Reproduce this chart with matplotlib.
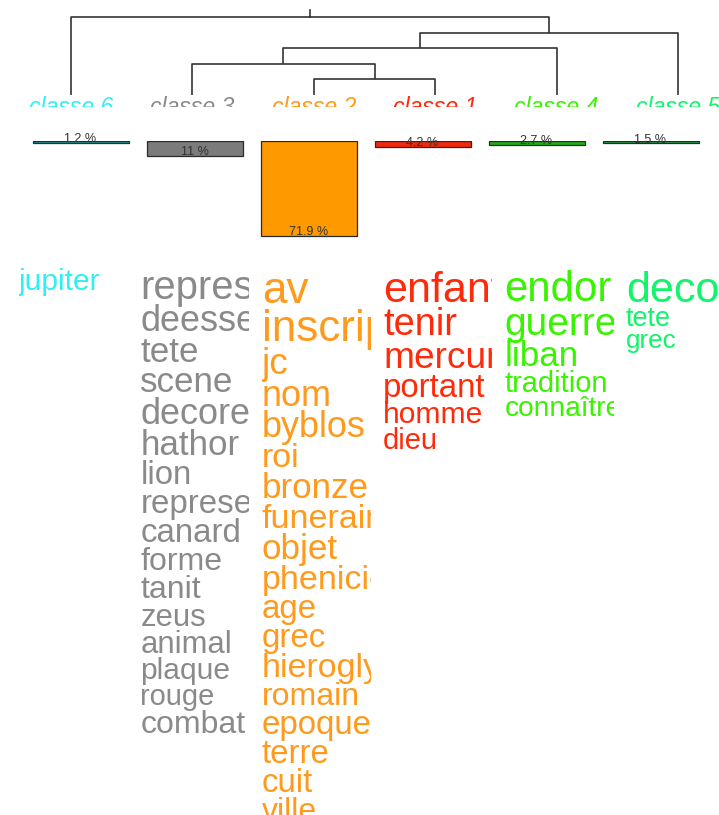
import matplotlib
matplotlib.use("Agg")
import matplotlib.pyplot as plt

# ---- data -------------------------------------------------------------
classes = ["classe 6", "classe 3", "classe 2", "classe 1", "classe 4", "classe 5"]
percents = [1.2, 11.0, 71.9, 4.2, 2.7, 1.5]
pct_labels = ["1.2 %", "11 %", "71.9 %", "4.2 %", "2.7 %", "1.5 %"]

# dendrogram merges, leaves are positions 0..5 in the order above
# (left node, right node, height) ; new nodes get ids 6, 7, ...
merges = [(2, 3, 1), (1, 6, 2), (7, 4, 3), (8, 5, 4), (0, 9, 5)]

words_c6 = ["jupiter"]
sizes_c6 = [30]
words_c3 = ["representer", "deesse", "tete", "scene", "decoree", "hathor", "lion",
            "represente", "canard", "forme", "tanit", "zeus", "animal", "plaque",
            "rouge", "combat"]
sizes_c3 = [40, 36, 35, 35, 36, 35, 33, 33, 33, 32, 32, 31, 31, 30, 29, 32]
words_c2 = ["av", "inscription", "jc", "nom", "byblos", "roi", "bronze", "funeraire",
            "objet", "phenicien", "age", "grec", "hieroglyphe", "romain", "epoque",
            "terre", "cuit", "ville"]
sizes_c2 = [44, 44, 37, 36, 36, 34, 35, 34, 35, 34, 33, 33, 34, 32, 33, 33, 33, 32]
words_c1 = ["enfant", "tenir", "mercure", "portant", "homme", "dieu"]
sizes_c1 = [43, 38, 37, 33, 30, 29]
words_c4 = ["endormi", "guerre", "liban", "tradition", "connaître"]
sizes_c4 = [42, 39, 35, 29, 28]
words_c5 = ["decoration", "tete", "grec"]
sizes_c5 = [43, 27, 26]

text_colors = ["#2ff0f4", "#8a8a8a", "#ff9a1c", "#ff2a0a", "#38f400", "#10f56a"]
bar_colors = ["#139c9c", "#7b7b7b", "#ff9900", "#f0280c", "#22aa18", "#1ea34a"]

# ---- layout (pixels of the 719x815 canvas) ----------------------------
W, H = 719, 815
fig = plt.figure(figsize=(W / 100, H / 100), dpi=100)

# dendrogram
leaf_x0, leaf_dx = 71, 121.4
unit = 15.6            # px per merge level
leaf_y = 95
dend_bottom = 107
ax_d = fig.add_axes([0, 1 - dend_bottom / H, 1, dend_bottom / H])
ax_d.set_xlim(-leaf_x0 / leaf_dx, (W - leaf_x0) / leaf_dx)
ax_d.set_ylim(-(dend_bottom - leaf_y) / unit, leaf_y / unit)
ax_d.axis("off")

xpos = {i: float(i) for i in range(len(classes))}
ypos = {i: 0.0 for i in range(len(classes))}
node = len(classes)
for a, b, h in merges:
    ax_d.plot([xpos[a], xpos[a], xpos[b], xpos[b]], [ypos[a], h, h, ypos[b]],
              color="#333333", lw=1.2, solid_capstyle="butt")
    xpos[node] = (xpos[a] + xpos[b]) / 2
    ypos[node] = h
    node += 1
root = node - 1
ax_d.plot([xpos[root], xpos[root]], [ypos[root], ypos[root] + 0.45],
          color="#333333", lw=1.2)

# class names, only their top part shows under the tree
for i, name in enumerate(classes):
    ax_d.text(i, -1.22, name, color=text_colors[i], fontsize=23 * 0.72,
              style="italic", family="Liberation Sans", ha="center",
              va="baseline", clip_on=True)

# bars
bar_x0, bar_dx = 80.5, 114
bar_top, px_per_pct = 141, 1.32
bar_h = 78 * px_per_pct
ax_b = fig.add_axes([0, 1 - (bar_top + bar_h) / H, 1, bar_h / H])
ax_b.set_xlim(-bar_x0 / bar_dx, (W - bar_x0) / bar_dx)
ax_b.set_ylim(78, 0)
ax_b.axis("off")
ax_b.bar(range(len(classes)), percents, width=96 / bar_dx, color=bar_colors,
         edgecolor="#2a2a2a", linewidth=0.9, align="center")
for i, (p, lab) in enumerate(zip(percents, pct_labels)):
    ax_b.annotate(lab, (i, p), xytext=(0, 2.5), textcoords="offset points",
                  fontsize=9, color="#333333", ha="center", va="center",
                  family="Liberation Sans")

# word columns
col_w = 109
word_top, word_start = 250, 264
step = 0.88
columns = [(words_c6, sizes_c6), (words_c3, sizes_c3), (words_c2, sizes_c2),
           (words_c1, sizes_c1), (words_c4, sizes_c4), (words_c5, sizes_c5)]
for i, (words, sizes) in enumerate(columns):
    left = leaf_x0 + leaf_dx * i - 52
    ax_w = fig.add_axes([left / W, 0, col_w / W, (H - word_top) / H])
    ax_w.set_xlim(0, col_w)
    ax_w.set_ylim(H, word_top)
    ax_w.axis("off")
    y = word_start
    for w, s in zip(words, sizes):
        y += s * step
        ax_w.text(0, y, w, fontsize=s * 0.72, color=text_colors[i],
                  family="Liberation Sans", ha="left", va="baseline",
                  clip_on=True)

fig.savefig("out.png", dpi=100)
